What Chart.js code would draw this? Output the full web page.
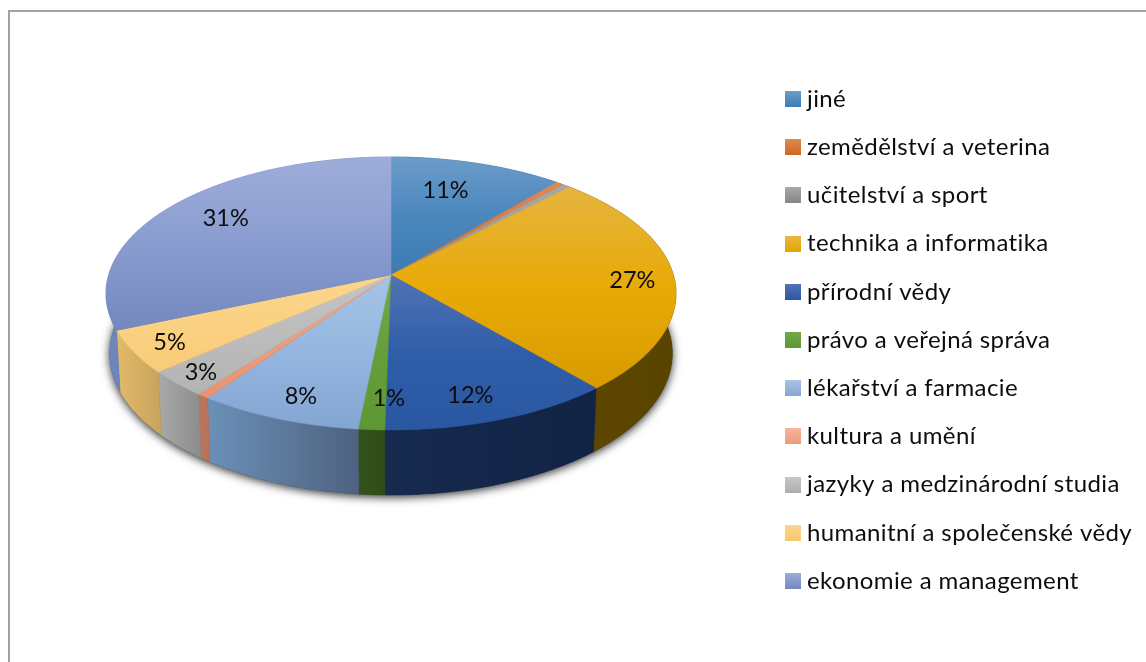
<!DOCTYPE html>
<html>
<head>
<meta charset="utf-8">
<script src="https://cdn.jsdelivr.net/npm/chart.js@4/dist/chart.umd.min.js"></script>
<style>
  html, body { margin: 0; background: #fff; overflow: hidden; }
  #frame { position: absolute; left: 8px; top: 10px; right: 0; bottom: 0; border-top: 2px solid #a3a3a3; border-left: 2px solid #a3a3a3; }
  #wrap { position: absolute; left: 0; top: 0; width: 1146px; height: 662px; }
</style>
</head>
<body>
<div id="frame"></div>
<div id="wrap"><canvas id="pieChart" width="1146" height="662"></canvas></div>
<script>
const categories = ['jiné', 'zemědělství a veterina', 'učitelství a sport', 'technika a informatika', 'přírodní vědy', 'právo a veřejná správa', 'lékařství a farmacie', 'kultura a umění', 'jazyky a medzinárodní studia', 'humanitní a společenské vědy', 'ekonomie a management'];
const shares = [11.2, 0.5, 0.5, 26.5, 11.6, 1.3, 8.2, 0.6, 3.1, 5.1, 31.4];

// top face: vertical gradient, light -> base -> dark
const topColors = [
  ['#6c9cc9', '#4a87bd', '#3c7cb2'],
  ['#e08a52', '#d97a3a', '#d0702e'],
  ['#a8a8a8', '#a0a0a0', '#989898'],
  ['#e6b43e', '#e8aa06', '#d89b00'],
  ['#5273b6', '#2f5ea9', '#2a57a2'],
  ['#72a948', '#659f3a', '#5e9734'],
  ['#a6c4e6', '#94b6df', '#83a5d2'],
  ['#f2a98a', '#ee9e7c', '#e8936f'],
  ['#c4c4c4', '#bcbcbc', '#b4b4b4'],
  ['#fcd68c', '#fbd183', '#f8cb78'],
  ['#9eacd9', '#8a9dd0', '#7388bf']
];
// side wall: horizontal gradient, left -> right
const sideColors = [
  ['#2f5a80', '#2f5a80'],
  ['#8a4a20', '#8a4a20'],
  ['#666666', '#666666'],
  ['#5f4700', '#584300'],
  ['#16294f', '#122445'],
  ['#33521b', '#2f4c18'],
  ['#6b90b8', '#4e6280'],
  ['#bb7558', '#b87258'],
  ['#a9a9a9', '#8c8c8c'],
  ['#e2ba69', '#c8a35d'],
  ['#6f86bd', '#5f78b0']
];
const legendColors = [
  ['#6c9cc9', '#3c7cb2'],
  ['#dd8a55', '#d2651c'],
  ['#a8a8a8', '#858585'],
  ['#e8b840', '#e3a600'],
  ['#5273b6', '#2a57a2'],
  ['#72a948', '#5e9734'],
  ['#a6c4e6', '#83a5d2'],
  ['#f4b59c', '#ee9878'],
  ['#c8c8c8', '#aeaeae'],
  ['#fcd68c', '#f8c870'],
  ['#9eacd9', '#7388bf']
];
// label shift from the slice's radial anchor, px
const labelNudge = [[-12, 2], [0, 0], [0, 0], [29, 3], [0, 16], [12, 12], [-8, 17], [0, 0], [-34, 18], [-32, 11], [2, -4]];

const LABEL_FONT = '23.5px Lato, Carlito, Calibri, sans-serif';
const LEGEND_FONT = '24px Lato, Carlito, Calibri, sans-serif';
const view = { cx: 391, cy: 275, a: 282.4, b: 134, k: 0.1355 };

// unit disc -> screen, with some perspective so the apex sits above the ellipse centre
function project(u, v) {
  const d = 1 - view.k * v;
  return { x: view.cx + view.a * u / d, y: view.cy + view.b * v / d };
}
function projectBottom(u, v) {
  const p = project(u, v);
  return { x: view.cx + (p.x - view.cx) * 0.987, y: p.y + 59 + 6 * v };
}

function rimPoints(start, end, fn) {
  const n = Math.max(2, Math.ceil((end - start) / 0.01));
  const pts = [];
  for (let i = 0; i <= n; i++) {
    const t = start + (end - start) * i / n;
    pts.push(fn(Math.cos(t), Math.sin(t)));
  }
  return pts;
}
function tracePath(ctx, pts) {
  ctx.beginPath();
  pts.forEach((p, i) => i ? ctx.lineTo(p.x, p.y) : ctx.moveTo(p.x, p.y));
  ctx.closePath();
}
function bounds(pts) {
  const xs = pts.map(p => p.x), ys = pts.map(p => p.y);
  return { x0: Math.min(...xs), x1: Math.max(...xs), y0: Math.min(...ys), y1: Math.max(...ys) };
}

const pie3d = {
  id: 'pie3d',
  beforeDatasetDraw(chart) {
    const ctx = chart.ctx;
    const arcs = chart.getDatasetMeta(0).data;

    // shadow under the disc
    ctx.save();
    ctx.shadowColor = 'rgba(0,0,0,0.85)';
    ctx.shadowBlur = 10;
    ctx.shadowOffsetY = 2;
    ctx.fillStyle = '#333';
    tracePath(ctx, rimPoints(0, Math.PI * 2, projectBottom));
    ctx.fill();
    ctx.restore();

    // walls
    arcs.forEach((arc, i) => {
      const top = rimPoints(arc.startAngle, arc.endAngle, project);
      const low = rimPoints(arc.startAngle, arc.endAngle, projectBottom);
      const pts = top.concat(low.reverse());
      const b = bounds(pts);
      const g = ctx.createLinearGradient(b.x0, 0, b.x1, 0);
      g.addColorStop(0, sideColors[i][0]);
      g.addColorStop(1, sideColors[i][1]);
      tracePath(ctx, pts);
      ctx.fillStyle = g;
      ctx.strokeStyle = g;
      ctx.lineWidth = 0.5;
      ctx.fill();
      ctx.stroke();
    });

    // top faces
    arcs.forEach((arc, i) => {
      const pts = [project(0, 0)].concat(rimPoints(arc.startAngle, arc.endAngle, project));
      const b = bounds(pts);
      const g = ctx.createLinearGradient(0, b.y0, 0, b.y1);
      g.addColorStop(0, topColors[i][0]);
      g.addColorStop(0.5, topColors[i][1]);
      g.addColorStop(1, topColors[i][2]);
      tracePath(ctx, pts);
      ctx.fillStyle = g;
      ctx.strokeStyle = g;
      ctx.lineWidth = 0.5;
      ctx.fill();
      ctx.stroke();
    });

    // percent labels, slices under 1 % carry none
    ctx.font = LABEL_FONT;
    ctx.fillStyle = '#0d0d0d';
    ctx.textAlign = 'center';
    ctx.textBaseline = 'middle';
    arcs.forEach((arc, i) => {
      if (shares[i] < 1) return;
      const mid = (arc.startAngle + arc.endAngle) / 2;
      const p = project(0.75 * Math.cos(mid), 0.75 * Math.sin(mid));
      ctx.fillText(Math.round(shares[i]) + '%', p.x + labelNudge[i][0], p.y + labelNudge[i][1]);
    });
    return false;
  },
  afterDraw(chart) {
    const ctx = chart.ctx;
    ctx.save();
    ctx.font = LEGEND_FONT;
    ctx.letterSpacing = '0.4px';
    ctx.textAlign = 'left';
    ctx.textBaseline = 'middle';
    categories.forEach((name, i) => {
      const y = 99 + i * 48.2;
      const g = ctx.createLinearGradient(0, y - 8, 0, y + 8);
      g.addColorStop(0, legendColors[i][0]);
      g.addColorStop(1, legendColors[i][1]);
      ctx.fillStyle = g;
      ctx.fillRect(785, Math.round(y - 8), 16, 16);
      ctx.fillStyle = '#0d0d0d';
      ctx.fillText(name, 807, y);
    });
    ctx.restore();
  }
};

const pieChart = new Chart(document.getElementById('pieChart').getContext('2d'), {
  type: 'pie',
  data: {
    labels: categories,
    datasets: [{
      data: shares,
      backgroundColor: topColors.map(c => c[1]),
      borderWidth: 0
    }]
  },
  options: {
    responsive: false,
    animation: false,
    plugins: {
      legend: { display: false },
      tooltip: { enabled: false }
    }
  },
  plugins: [pie3d]
});
</script>
</body>
</html>
